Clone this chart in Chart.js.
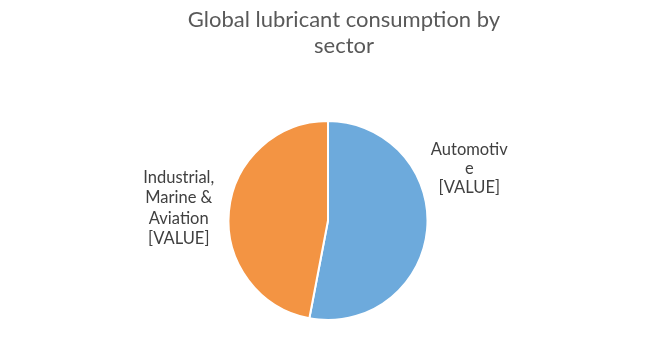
<!DOCTYPE html>
<html>
<head>
<meta charset="utf-8">
<script src="https://cdn.jsdelivr.net/npm/chart.js@4/dist/chart.umd.min.js"></script>
<style>
  html, body { margin: 0; padding: 0; background: #ffffff; }
  #wrap { width: 649px; height: 355px; position: relative; }
</style>
</head>
<body>
<div id="wrap"><canvas id="c" width="649" height="355"></canvas></div>
<script>
// ---- data ----
const titleLines = ["Global lubricant consumption by", "sector"];
const categories = ["Automotive", "Industrial, Marine & Aviation"];
const values = [53, 47];
const labelLines = [["Automotiv", "e", "[VALUE]"], ["Industrial,", "Marine &", "Aviation", "[VALUE]"]];
const colors = ["#6DAADC", "#F39443"];

// ---- custom drawing (title + outside labels) ----
const labelPlugin = {
  id: 'excelLabels',
  afterDraw(chart) {
    const ctx = chart.ctx;
    const meta = chart.getDatasetMeta(0);
    const arc0 = meta.data[0];
    const cx = arc0.x, cy = arc0.y, r = arc0.outerRadius;
    ctx.save();
    // title
    ctx.fillStyle = '#595959';
    ctx.font = '22px Lato';
    ctx.textAlign = 'center';
    ctx.textBaseline = 'alphabetic';
    const tx = cx + 16;
    titleLines.forEach((t, i) => ctx.fillText(t, tx, 27 + i * 26));
    // labels
    ctx.fillStyle = '#404040';
    ctx.font = '16.5px Lato';
    const anchors = [
      { dx: 1.42, dy: -0.66, lh: 19 },
      { dx: -1.50, dy: -0.38, lh: 20.5 }
    ];
    labelLines.forEach((lines, i) => {
      const a = anchors[i];
      const x = cx + a.dx * r;
      const y0 = cy + a.dy * r;
      lines.forEach((l, j) => ctx.fillText(l, x, y0 + j * a.lh));
    });
    ctx.restore();
  }
};

new Chart(document.getElementById('c'), {
  type: 'pie',
  data: {
    labels: categories,
    datasets: [{
      data: values,
      backgroundColor: colors,
      borderColor: '#ffffff',
      borderWidth: 2
    }]
  },
  options: {
    responsive: false,
    animation: false,
    layout: { padding: { top: 120, bottom: 34, left: 7, right: 0 } },
    plugins: {
      legend: { display: false },
      title: { display: false },
      tooltip: { enabled: false }
    }
  },
  plugins: [labelPlugin]
});
</script>
</body>
</html>
